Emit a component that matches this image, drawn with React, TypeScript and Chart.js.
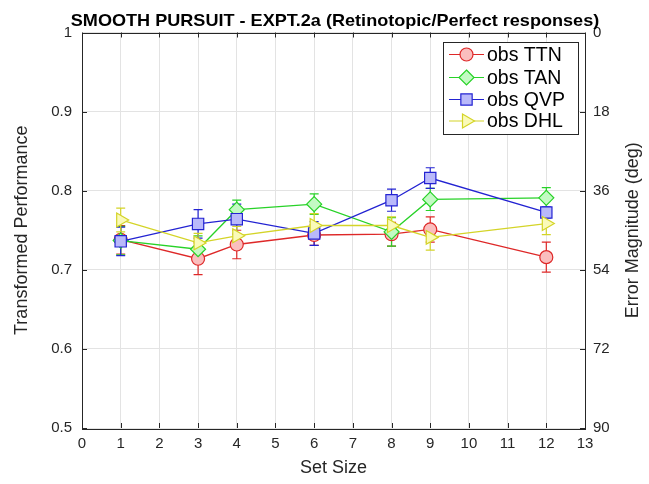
import React, { useEffect, useRef } from 'react';
import { Chart, registerables } from 'chart.js';

Chart.register(...registerables);

// ---- data ----
const setSizes = [1, 3, 4, 6, 8, 9, 12];
const ttnValues = [0.738, 0.714, 0.732, 0.744, 0.745, 0.751, 0.716];
const ttnErrors = [0.018, 0.02, 0.018, 0.013, 0.015, 0.016, 0.019];
const tanValues = [0.737, 0.726, 0.776, 0.783, 0.748, 0.789, 0.791];
const tanErrors = [0.018, 0.017, 0.012, 0.013, 0.018, 0.014, 0.013];
const qvpValues = [0.736, 0.758, 0.764, 0.746, 0.788, 0.816, 0.7725];
const qvpErrors = [0.018, 0.018, 0.019, 0.015, 0.014, 0.013, 0.007];
const dhlValues = [0.763, 0.734, 0.743, 0.756, 0.756, 0.741, 0.7585];
const dhlErrors = [0.015, 0.012, 0.012, 0.015, 0.011, 0.016, 0.014];

const seriesNames = ['obs TTN', 'obs TAN', 'obs QVP', 'obs DHL'];
const leftTickLabels = ['0.5', '0.6', '0.7', '0.8', '0.9', '1'];
const rightTickLabels = ['90', '72', '54', '36', '18', '0'];
const xTickLabels = ['0', '1', '2', '3', '4', '5', '6', '7', '8', '9', '10', '11', '12', '13'];

const titleText = 'SMOOTH PURSUIT - EXPT.2a (Retinotopic/Perfect responses)';
const xTitle = 'Set Size';
const yTitle = 'Transformed Performance';
const y2Title = 'Error Magnitude (deg)';

const FONT = '"Liberation Sans", Arial, Helvetica, sans-serif';
const TEXT = '#262626';

const styles = [
  { stroke: 'rgb(222,40,40)', fill: 'rgb(250,190,190)', shape: 'circle', radius: 6.5, rotation: 0 },
  { stroke: 'rgb(40,210,40)', fill: 'rgb(195,250,195)', shape: 'rectRot', radius: 7.5, rotation: 0 },
  { stroke: 'rgb(35,35,210)', fill: 'rgb(185,185,250)', shape: 'rect', radius: 8, rotation: 0 },
  { stroke: 'rgb(212,212,40)', fill: 'rgb(250,250,185)', shape: 'triangle', radius: 8, rotation: 90 },
];

const valueSets = [ttnValues, tanValues, qvpValues, dhlValues];
const errorSets = [ttnErrors, tanErrors, qvpErrors, dhlErrors];

function drawMarker(ctx: CanvasRenderingContext2D, st: any, x: number, y: number) {
  ctx.save();
  ctx.fillStyle = st.fill;
  ctx.strokeStyle = st.stroke;
  ctx.lineWidth = 1.2;
  ctx.beginPath();
  const r = st.radius;
  if (st.shape === 'circle') {
    ctx.arc(x, y, r, 0, Math.PI * 2);
  } else if (st.shape === 'rectRot') {
    ctx.moveTo(x, y - r);
    ctx.lineTo(x + r, y);
    ctx.lineTo(x, y + r);
    ctx.lineTo(x - r, y);
    ctx.closePath();
  } else if (st.shape === 'rect') {
    const s = r * Math.SQRT1_2;
    ctx.rect(x - s, y - s, 2 * s, 2 * s);
  } else {
    ctx.moveTo(x + r, y);
    ctx.lineTo(x - r / 2, y - r * 0.866);
    ctx.lineTo(x - r / 2, y + r * 0.866);
    ctx.closePath();
  }
  ctx.fill();
  ctx.stroke();
  ctx.restore();
}

const decorPlugin = {
  id: 'decor',
  beforeDatasetsDraw(chart: any) {
    const { ctx } = chart;
    const xs = chart.scales.x;
    const ys = chart.scales.y;
    ctx.save();
    ctx.lineWidth = 1.2;
    valueSets.forEach((vals, si) => {
      ctx.strokeStyle = styles[si].stroke;
      vals.forEach((v, i) => {
        const e = errorSets[si][i];
        const px = xs.getPixelForValue(setSizes[i]);
        const top = ys.getPixelForValue(v + e);
        const bot = ys.getPixelForValue(v - e);
        ctx.beginPath();
        ctx.moveTo(px, top);
        ctx.lineTo(px, bot);
        ctx.moveTo(px - 4.5, top);
        ctx.lineTo(px + 4.5, top);
        ctx.moveTo(px - 4.5, bot);
        ctx.lineTo(px + 4.5, bot);
        ctx.stroke();
      });
    });
    ctx.restore();
  },
  afterDraw(chart: any) {
    const { ctx, chartArea: a } = chart;
    const xs = chart.scales.x;
    const ys = chart.scales.y;
    ctx.save();
    // frame
    ctx.strokeStyle = TEXT;
    ctx.lineWidth = 1;
    ctx.strokeRect(Math.round(a.left) + 0.5, Math.round(a.top) + 0.5, Math.round(a.right - a.left), Math.round(a.bottom - a.top));
    // inward ticks
    ctx.beginPath();
    xTickLabels.forEach((_, i) => {
      const px = Math.round(xs.getPixelForValue(i)) + 0.5;
      ctx.moveTo(px, a.bottom);
      ctx.lineTo(px, a.bottom - 5);
      ctx.moveTo(px, a.top);
      ctx.lineTo(px, a.top + 5);
    });
    leftTickLabels.forEach((_, i) => {
      const py = Math.round(ys.getPixelForValue(0.5 + i * 0.1)) + 0.5;
      ctx.moveTo(a.left, py);
      ctx.lineTo(a.left + 5, py);
      ctx.moveTo(a.right, py);
      ctx.lineTo(a.right - 5, py);
    });
    ctx.stroke();

    // title (slightly widened to match reference face)
    ctx.fillStyle = '#000';
    ctx.font = `bold 16px ${FONT}`;
    ctx.textAlign = 'center';
    ctx.textBaseline = 'alphabetic';
    ctx.save();
    ctx.translate(335, 26);
    ctx.scale(1.13, 1.05);
    ctx.fillText(titleText, 0, 0);
    ctx.restore();

    ctx.fillStyle = TEXT;
    ctx.font = `18px ${FONT}`;
    ctx.textBaseline = 'middle';
    ctx.fillText(xTitle, (a.left + a.right) / 2, 468);

    ctx.save();
    ctx.translate(22, (a.top + a.bottom) / 2);
    ctx.rotate(-Math.PI / 2);
    ctx.fillText(yTitle, 0, 0);
    ctx.restore();

    ctx.save();
    ctx.translate(633, (a.top + a.bottom) / 2);
    ctx.rotate(-Math.PI / 2);
    ctx.fillText(y2Title, 0, 0);
    ctx.restore();

    // legend
    const lx = 443, ly = 42, lw = 135, lh = 92;
    ctx.fillStyle = '#fff';
    ctx.fillRect(lx, ly, lw, lh);
    ctx.strokeStyle = TEXT;
    ctx.lineWidth = 1;
    ctx.strokeRect(lx + 0.5, ly + 0.5, lw, lh);
    const rowsY = [54.5, 77.5, 99.5, 121];
    seriesNames.forEach((name, i) => {
      const y = rowsY[i];
      const st = styles[i];
      ctx.strokeStyle = st.stroke;
      ctx.lineWidth = 1.2;
      ctx.beginPath();
      ctx.moveTo(449, y);
      ctx.lineTo(484, y);
      ctx.stroke();
      drawMarker(ctx, st, 466.5, y);
      ctx.fillStyle = '#000';
      ctx.font = `19.5px ${FONT}`;
      ctx.textAlign = 'left';
      ctx.textBaseline = 'middle';
      ctx.fillText(name, 487, y + 1);
    });
    ctx.restore();
  },
};

export default function App() {
  const ref = useRef<HTMLCanvasElement | null>(null);
  useEffect(() => {
    if (!ref.current) return;
    const datasets = valueSets.map((vals, si) => ({
      label: seriesNames[si],
      data: vals.map((v, i) => ({ x: setSizes[i], y: v })),
      borderColor: styles[si].stroke,
      backgroundColor: styles[si].fill,
      borderWidth: 1.3,
      pointStyle: styles[si].shape,
      pointRadius: styles[si].radius,
      pointRotation: styles[si].rotation,
      pointBorderWidth: 1.2,
      pointBackgroundColor: styles[si].fill,
      pointBorderColor: styles[si].stroke,
      tension: 0,
      fill: false,
      order: 3 - si,
    }));
    const chart = new Chart(ref.current, {
      type: 'line',
      data: { datasets },
      options: {
        animation: false,
        responsive: false,
        maintainAspectRatio: false,
        layout: { padding: { top: 32.5, left: 0, right: 0, bottom: 0 } },
        plugins: { legend: { display: false }, tooltip: { enabled: false }, title: { display: false } },
        scales: {
          x: {
            type: 'linear',
            min: 0,
            max: 13,
            ticks: {
              stepSize: 1,
              color: TEXT,
              font: { family: FONT, size: 15 },
              padding: 7,
              maxRotation: 0,
              autoSkip: false,
              callback: (v: any) => xTickLabels[Math.round(Number(v))] ?? '',
            },
            grid: { color: '#e3e3e3', drawTicks: false, lineWidth: 1 },
            border: { display: false },
            afterFit: (axis: any) => { axis.height = 56; },
          },
          y: {
            type: 'linear',
            position: 'left',
            min: 0.5,
            max: 1,
            ticks: {
              stepSize: 0.1,
              color: TEXT,
              font: { family: FONT, size: 15 },
              padding: 10,
              callback: (v: any) => leftTickLabels[Math.round((Number(v) - 0.5) * 10)] ?? '',
            },
            grid: { color: '#e3e3e3', drawTicks: false, lineWidth: 1 },
            border: { display: false },
            afterFit: (axis: any) => { axis.width = 82; },
          },
          y2: {
            type: 'linear',
            position: 'right',
            min: 0.5,
            max: 1,
            ticks: {
              stepSize: 0.1,
              color: TEXT,
              font: { family: FONT, size: 15 },
              padding: 8,
              callback: (v: any) => rightTickLabels[Math.round((Number(v) - 0.5) * 10)] ?? '',
            },
            grid: { display: false, drawTicks: false },
            border: { display: false },
            afterFit: (axis: any) => { axis.width = 64; },
          },
        },
      },
      plugins: [decorPlugin],
    } as any);
    return () => chart.destroy();
  }, []);
  return (
    <div style={{ position: 'fixed', left: 0, top: 0, width: 649, height: 484, background: '#fff' }}>
      <canvas ref={ref} width={649} height={484} style={{ width: 649, height: 484, display: 'block' }} />
    </div>
  );
}
